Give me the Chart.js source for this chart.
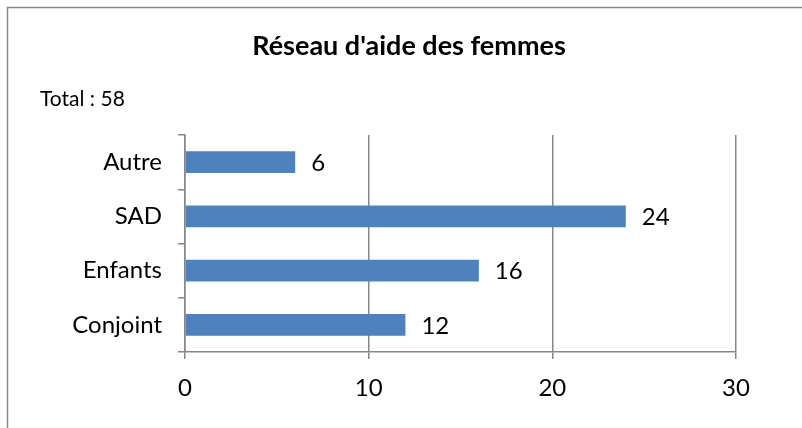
<!DOCTYPE html>
<html>
<head>
<meta charset="utf-8">
<script src="https://cdn.jsdelivr.net/npm/chart.js@4/dist/chart.umd.min.js"></script>
<style>
    html, body { margin: 0; padding: 0; background: #fff; }
    #wrap { width: 802px; height: 428px; }
</style>
</head>
<body>
<div id="wrap"><canvas id="chart" width="802" height="428"></canvas></div>
<script>
// values
const categories = ["Autre", "SAD", "Enfants", "Conjoint"];
const values = [6, 24, 16, 12];
const xTicks = [0, 10, 20, 30];
const chartTitle = "Réseau d'aide des femmes";
const totalText = "Total : 58";

const FONT = "Lato, 'Open Sans', sans-serif";
const GRID = "#868686";

// frame, title and total drawn before the chart
const decorPlugin = {
    id: "decor",
    beforeDraw(chart) {
        const ctx = chart.ctx;
        ctx.save();
        ctx.fillStyle = "#fff";
        ctx.fillRect(0, 0, chart.width, chart.height);
        ctx.strokeStyle = "#878787";
        ctx.lineWidth = 1.5;
        ctx.beginPath();
        ctx.moveTo(7.5, chart.height + 2);
        ctx.lineTo(7.5, 7.5);
        ctx.lineTo(chart.width + 2, 7.5);
        ctx.stroke();

        ctx.fillStyle = "#000";
        ctx.textBaseline = "alphabetic";
        ctx.textAlign = "center";
        ctx.font = "bold 27px " + FONT;
        ctx.fillText(chartTitle, 409, 55);
        ctx.textAlign = "left";
        ctx.font = "21px " + FONT;
        ctx.fillText(totalText, 40, 106);
        ctx.restore();
    }
};

// value labels to the right of each bar
const valueLabels = {
    id: "valueLabels",
    afterDatasetsDraw(chart) {
        const ctx = chart.ctx;
        const meta = chart.getDatasetMeta(0);
        ctx.save();
        ctx.fillStyle = "#000";
        ctx.font = "24px " + FONT;
        ctx.textAlign = "left";
        ctx.textBaseline = "middle";
        meta.data.forEach((bar, i) => {
            ctx.fillText(String(values[i]), bar.x + 16, bar.y + 1);
        });
        ctx.restore();
    }
};

new Chart(document.getElementById("chart"), {
    type: "bar",
    data: {
        labels: categories,
        datasets: [{
            data: values,
            backgroundColor: "#4F81BD",
            borderWidth: 0,
            barPercentage: 0.4,
            categoryPercentage: 1
        }]
    },
    options: {
        indexAxis: "y",
        responsive: false,
        animation: false,
        layout: { padding: { left: 0, right: 66, top: 135, bottom: 0 } },
        plugins: {
            legend: { display: false },
            tooltip: { enabled: false }
        },
        scales: {
            x: {
                min: 0,
                max: 30,
                afterBuildTicks(scale) {
                    scale.ticks = xTicks.map(v => ({ value: v }));
                },
                afterFit(scale) { scale.height = 76; },
                grid: {
                    color: GRID,
                    lineWidth: 1.5,
                    tickLength: 7,
                    drawOnChartArea: true
                },
                border: { color: GRID, width: 1.5 },
                ticks: {
                    color: "#000",
                    font: { family: FONT, size: 24 },
                    padding: 15,
                    maxRotation: 0
                }
            },
            y: {
                afterFit(scale) { scale.width = 185; },
                grid: {
                    color: GRID,
                    lineWidth: 1.5,
                    tickLength: 7,
                    drawOnChartArea: false,
                    offset: true
                },
                border: { color: GRID, width: 1.5 },
                ticks: {
                    color: "#000",
                    font: { family: FONT, size: 24 },
                    padding: 16
                }
            }
        }
    },
    plugins: [decorPlugin, valueLabels]
});
</script>
</body>
</html>
